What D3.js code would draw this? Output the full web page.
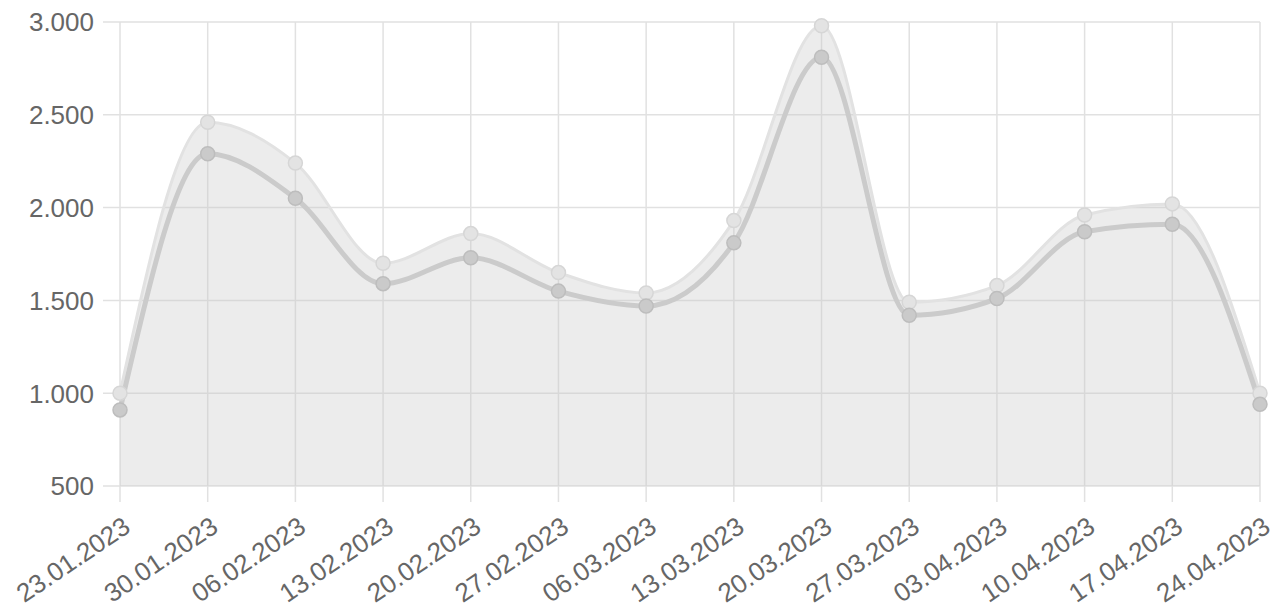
<!DOCTYPE html>
<html>
<head>
<meta charset="utf-8">
<script src="https://cdn.jsdelivr.net/npm/d3@7"></script>
<style>
  body { margin: 0; background: #fff; }
  svg text { font-family: "Liberation Sans", Arial, sans-serif; fill: #666; }
</style>
</head>
<body>
<div id="chart"></div>
<script>
// categories and values
var dates = ["23.01.2023","30.01.2023","06.02.2023","13.02.2023","20.02.2023","27.02.2023","06.03.2023",
             "13.03.2023","20.03.2023","27.03.2023","03.04.2023","10.04.2023","17.04.2023","24.04.2023"];
var upperValues = [1000, 2460, 2240, 1700, 1860, 1650, 1540, 1930, 2980, 1490, 1580, 1960, 2020, 1000];
var lowerValues = [910, 2290, 2050, 1590, 1730, 1550, 1470, 1810, 2810, 1420, 1510, 1870, 1910, 940];
var yTicks = [500, 1000, 1500, 2000, 2500, 3000];

var width = 1280, height = 611;
var margin = {top: 22, right: 20, bottom: 125, left: 120};

var svg = d3.select("#chart")
    .append("svg")
    .attr("width", width)
    .attr("height", height);

var x = d3.scalePoint()
    .domain(dates)
    .range([margin.left, width - margin.right]);

var y = d3.scaleLinear()
    .domain([500, 3000])
    .range([height - margin.bottom, margin.top]);

var fmt = function(v) { return d3.format(",")(v).replace(/,/g, "."); };

// grid
svg.append("g").selectAll("line")
    .data(dates)
    .enter().append("line")
    .attr("x1", function(d) { return x(d); })
    .attr("x2", function(d) { return x(d); })
    .attr("y1", y(3000))
    .attr("y2", y(500) + 16)
    .attr("stroke", "#e1e1e1")
    .attr("stroke-width", 1.5);

svg.append("g").selectAll("line")
    .data(yTicks)
    .enter().append("line")
    .attr("x1", margin.left - 17)
    .attr("x2", width - margin.right)
    .attr("y1", function(d) { return y(d); })
    .attr("y2", function(d) { return y(d); })
    .attr("stroke", "#e1e1e1")
    .attr("stroke-width", 1.5);

// y labels
svg.append("g").selectAll("text")
    .data(yTicks)
    .enter().append("text")
    .attr("x", 94)
    .attr("y", function(d) { return y(d); })
    .attr("dy", "0.36em")
    .attr("text-anchor", "end")
    .style("font-size", "26px")
    .text(fmt);

// x labels
svg.append("g").selectAll("text")
    .data(dates)
    .enter().append("text")
    .attr("transform", function(d) { return "translate(" + (x(d) + 7) + "," + (y(500) + 37) + ") rotate(-34)"; })
    .attr("text-anchor", "end")
    .attr("dy", "0.35em")
    .style("font-size", "26px")
    .text(function(d) { return d; });

var area = d3.area()
    .curve(d3.curveMonotoneX)
    .x(function(d, i) { return x(dates[i]); })
    .y0(y(500))
    .y1(function(d) { return y(d); });

var line = d3.line()
    .curve(d3.curveMonotoneX)
    .x(function(d, i) { return x(dates[i]); })
    .y(function(d) { return y(d); });

// upper series: filled area
svg.append("path")
    .attr("d", area(upperValues))
    .attr("fill", "rgba(200,200,200,0.35)")
    .attr("stroke", "none");

svg.append("path")
    .attr("d", line(upperValues))
    .attr("fill", "none")
    .attr("stroke", "#e2e2e2")
    .attr("stroke-width", 3);

// lower series line
svg.append("path")
    .attr("d", line(lowerValues))
    .attr("fill", "none")
    .attr("stroke", "#cbcbcb")
    .attr("stroke-width", 5);

// points
svg.append("g").selectAll("circle")
    .data(upperValues)
    .enter().append("circle")
    .attr("cx", function(d, i) { return x(dates[i]); })
    .attr("cy", function(d) { return y(d); })
    .attr("r", 7)
    .attr("fill", "#e3e3e3")
    .attr("stroke", "#d6d6d6")
    .attr("stroke-width", 1.5);

svg.append("g").selectAll("circle")
    .data(lowerValues)
    .enter().append("circle")
    .attr("cx", function(d, i) { return x(dates[i]); })
    .attr("cy", function(d) { return y(d); })
    .attr("r", 7)
    .attr("fill", "#cacaca")
    .attr("stroke", "#bdbdbd")
    .attr("stroke-width", 1.5);
</script>
</body>
</html>
